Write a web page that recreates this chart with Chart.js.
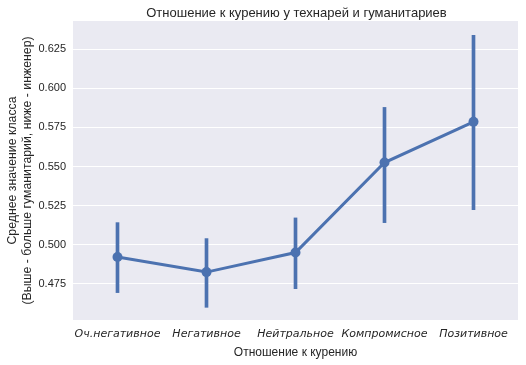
<!DOCTYPE html>
<html>
<head>
<meta charset="utf-8">
<script src="https://cdn.jsdelivr.net/npm/chart.js@4/dist/chart.umd.min.js"></script>
<style>
  html, body { margin: 0; padding: 0; background: #fff; }
  #wrap { width: 526px; height: 365px; }
</style>
</head>
<body>
<div id="wrap"><canvas id="chart" width="526" height="365"></canvas></div>
<script>
// categories and values
var categories = ["Оч.негативное", "Негативное", "Нейтральное", "Компромисное", "Позитивное"];
var means = [0.4922, 0.4826, 0.4951, 0.5526, 0.5786];
var ciLow = [0.4695, 0.4601, 0.4720, 0.5142, 0.5225];
var ciHigh = [0.5142, 0.5040, 0.5172, 0.5878, 0.6339];
var yTicks = [0.475, 0.500, 0.525, 0.550, 0.575, 0.600, 0.625];

var BLUE = "#4c72b0";
var TEXT = "#262626";

var ciBars = [];
for (i = 0; i < categories.length; i++) {
  ciBars[i] = [ciLow[i], ciHigh[i]];
}

// grey plot background + title centered over the plot area
var seabornLook = {
  id: 'seabornLook',
  beforeDraw: function(chart) {
    var a = chart.chartArea, c = chart.ctx;
    c.save();
    c.fillStyle = "#eaeaf2";
    c.fillRect(a.left, a.top, a.right - a.left, a.bottom - a.top);
    c.restore();
  },
  afterDraw: function(chart) {
    var a = chart.chartArea, c = chart.ctx;
    c.save();
    c.fillStyle = TEXT;
    c.font = "13px 'Liberation Sans', Arial, sans-serif";
    c.textAlign = "center";
    c.textBaseline = "middle";
    c.fillText("Отношение к курению у технарей и гуманитариев", (a.left + a.right) / 2 + 1, 13);
    c.restore();
  }
};

window.onload = function() {
  var ctx = document.getElementById('chart').getContext('2d');
  window.theChart = new Chart(ctx, {
    type: 'line',
    data: {
      labels: categories,
      datasets: [{
        type: 'line',
        data: means,
        borderColor: BLUE,
        backgroundColor: BLUE,
        borderWidth: 3,
        pointRadius: 5,
        pointBorderWidth: 0,
        pointBackgroundColor: BLUE,
        tension: 0,
        order: 0
      }, {
        type: 'bar',
        data: ciBars,
        backgroundColor: BLUE,
        borderWidth: 0,
        barThickness: 3,
        grouped: false,
        order: 1
      }]
    },
    options: {
      responsive: false,
      animation: false,
      layout: { padding: { top: 21, right: 8, left: 0, bottom: 0 } },
      plugins: {
        legend: { display: false },
        tooltip: { enabled: false },
        title: { display: false }
      },
      scales: {
        x: {
          type: 'category',
          offset: true,
          grid: { display: false, drawTicks: false },
          border: { display: false },
          ticks: {
            color: TEXT,
            padding: 8,
            maxRotation: 0,
            autoSkip: false,
            font: { family: "'DejaVu Sans'", size: 11, style: 'italic' }
          },
          title: {
            display: true,
            text: "Отношение к курению",
            color: TEXT,
            padding: { top: 4, bottom: 5 },
            font: { family: "'Liberation Sans', Arial", size: 12 }
          },
          afterFit: function(scale) { scale.height = 45; }
        },
        y: {
          min: 0.452,
          max: 0.643,
          grid: { color: "#ffffff", lineWidth: 1, drawTicks: false },
          border: { display: false },
          ticks: {
            color: TEXT,
            padding: 7,
            font: { family: "'Liberation Sans', Arial", size: 11 },
            callback: function(v) { return Number(v).toFixed(3); }
          },
          afterBuildTicks: function(scale) {
            scale.ticks = yTicks.map(function(v) { return { value: v }; });
          },
          title: {
            display: true,
            text: ["Среднее значение класса", "(Выше - больше гуманитарий, ниже - инженер)"],
            color: TEXT,
            padding: { top: 5, bottom: 0 },
            font: { family: "'Liberation Sans', Arial", size: 12.3, lineHeight: 1.2 }
          },
          afterFit: function(scale) { scale.width = 73; }
        }
      }
    },
    plugins: [seabornLook]
  });
};
</script>
</body>
</html>
